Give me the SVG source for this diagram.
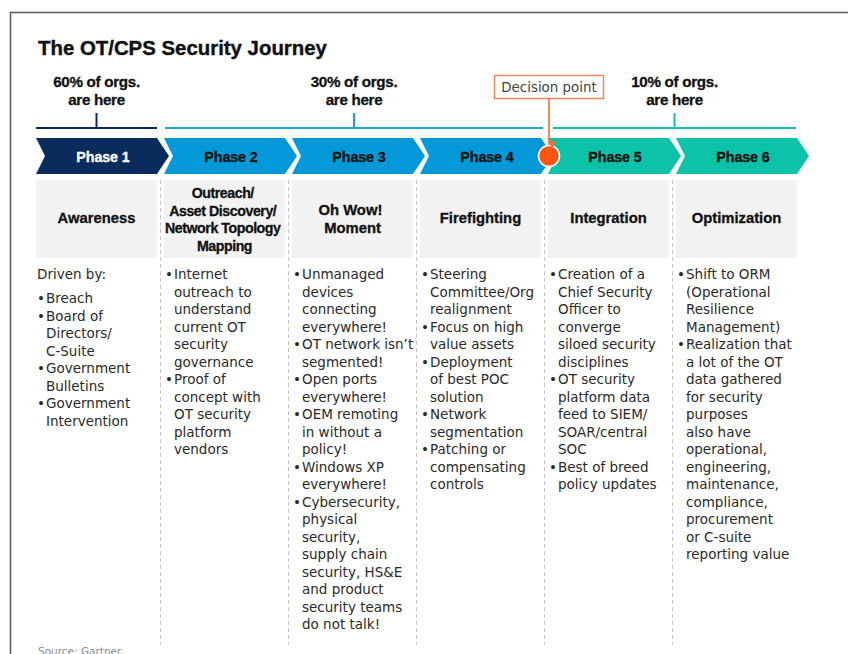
<svg xmlns="http://www.w3.org/2000/svg" width="848" height="654" viewBox="0 0 848 654">
  <defs>
    <style>
      .title { font-family: "Liberation Sans", Arial, sans-serif; font-weight: bold; font-size: 20.4px; fill: #111; stroke: #111; stroke-width: 0.4px; }
      .pct { font-family: "Liberation Sans", Arial, sans-serif; font-weight: bold; font-size: 15.2px; fill: #111; stroke: #111; stroke-width: 0.3px; text-anchor: middle; letter-spacing: -0.3px; }
      .ph { font-family: "Liberation Sans", Arial, sans-serif; font-weight: bold; font-size: 14.3px; text-anchor: middle; fill: #111; stroke: #111; stroke-width: 0.3px; letter-spacing: -0.1px; }
      .ph.light { fill: #fff; stroke: #fff; }
      .hd { font-family: "Liberation Sans", Arial, sans-serif; font-weight: bold; font-size: 14.8px; text-anchor: middle; fill: #111; stroke: #111; stroke-width: 0.3px; }
      .hd.tight { font-size: 14.2px; letter-spacing: -0.45px; }
      .body { font-family: "DejaVu Sans", Verdana, sans-serif; font-size: 13.5px; fill: #2a2a2a; }
      .dp { font-family: "DejaVu Sans", Verdana, sans-serif; font-size: 13.4px; fill: #444; text-anchor: middle; }
      .src { font-family: "DejaVu Sans", Verdana, sans-serif; font-size: 10.5px; fill: #8a8a8a; }
      .hbox { fill: #f2f2f2; }
      .sep { stroke: #c4c4c4; stroke-width: 1; stroke-dasharray: 4 3; fill: none; }
      .navy { fill: #0b2b5c; }
      .blue { fill: #0399d8; }
      .teal { fill: #0cc2a9; }
    </style>
    <marker id="arrowDown" viewBox="0 0 10 10" refX="5" refY="9" markerWidth="8" markerHeight="8" markerUnits="userSpaceOnUse" orient="auto">
      <path d="M0,0 L10,5 L0,10 Z" fill="#f26b3a"/>
    </marker>
  </defs>

  <rect width="848" height="654" fill="#fff"/>

  <!-- outer frame -->
  <path d="M10.5,654 L10.5,12.5 L848,12.5" fill="none" stroke="#5a5a5a" stroke-width="1.5"/>

  <text class="title" x="38" y="55">The OT/CPS Security Journey</text>

  <!-- share-of-organisations brackets -->
  <g id="share-60">
    <text class="pct" x="96.5" y="87">60% of orgs.</text>
    <text class="pct" x="96.5" y="105">are here</text>
    <line x1="36" y1="128" x2="157" y2="128" stroke="#0b2b5c" stroke-width="2"/>
    <line x1="96.5" y1="113" x2="96.5" y2="128" stroke="#0b2b5c" stroke-width="2"/>
  </g>
  <g id="share-30">
    <text class="pct" x="354" y="87">30% of orgs.</text>
    <text class="pct" x="354" y="105">are here</text>
    <line x1="165" y1="128" x2="543" y2="128" stroke="#1a9fe0" stroke-width="2"/>
    <line x1="354" y1="113" x2="354" y2="128" stroke="#1a9fe0" stroke-width="2"/>
  </g>
  <g id="share-10">
    <text class="pct" x="674.5" y="87">10% of orgs.</text>
    <text class="pct" x="674.5" y="105">are here</text>
    <line x1="553" y1="128" x2="796" y2="128" stroke="#14c0a8" stroke-width="2"/>
    <line x1="674.5" y1="113" x2="674.5" y2="128" stroke="#14c0a8" stroke-width="2"/>
  </g>

  <!-- column separators -->
  <g id="separators">
    <line class="sep" x1="160.5" y1="180" x2="160.5" y2="645"/>
    <line class="sep" x1="288.5" y1="180" x2="288.5" y2="645"/>
    <line class="sep" x1="416.5" y1="180" x2="416.5" y2="645"/>
    <line class="sep" x1="544.5" y1="180" x2="544.5" y2="645"/>
    <line class="sep" x1="672.5" y1="180" x2="672.5" y2="645"/>
  </g>

  <!-- Phase 1 -->
  <g id="phase1">
    <path class="navy" d="M36,138 L157,138 L169,156 L157,174 L36,174 L45,156 Z"/>
    <text class="ph light" x="103" y="161.5">Phase 1</text>
    <rect class="hbox" x="36" y="180" width="121" height="78"/>
    <text class="hd" x="96.5" y="223">Awareness</text>
    <text class="body">
      <tspan x="37" y="279">Driven by:</tspan>
      <tspan x="37" y="303">•</tspan><tspan x="46" y="303">Breach</tspan>
      <tspan x="37" y="320.5">•</tspan><tspan x="46" y="320.5">Board of</tspan>
      <tspan x="46" y="338">Directors/</tspan>
      <tspan x="46" y="355.5">C-Suite</tspan>
      <tspan x="37" y="373">•</tspan><tspan x="46" y="373">Government</tspan>
      <tspan x="46" y="390.5">Bulletins</tspan>
      <tspan x="37" y="408">•</tspan><tspan x="46" y="408">Government</tspan>
      <tspan x="46" y="425.5">Intervention</tspan>
    </text>
  </g>

  <!-- Phase 2 -->
  <g id="phase2">
    <path class="blue" d="M164,138 L285,138 L297,156 L285,174 L164,174 L173,156 Z"/>
    <text class="ph" x="231" y="161.5">Phase 2</text>
    <rect class="hbox" x="164" y="180" width="121" height="78"/>
    <text class="hd tight">
      <tspan x="224.5" y="198">Outreach/</tspan>
      <tspan x="224.5" y="215.5">Asset Discovery/</tspan>
      <tspan x="224.5" y="233">Network Topology</tspan>
      <tspan x="224.5" y="250.5">Mapping</tspan>
    </text>
    <text class="body">
      <tspan x="165" y="279">•</tspan><tspan x="174" y="279">Internet</tspan>
      <tspan x="174" y="296.5">outreach to</tspan>
      <tspan x="174" y="314">understand</tspan>
      <tspan x="174" y="331.5">current OT</tspan>
      <tspan x="174" y="349">security</tspan>
      <tspan x="174" y="366.5">governance</tspan>
      <tspan x="165" y="384">•</tspan><tspan x="174" y="384">Proof of</tspan>
      <tspan x="174" y="401.5">concept with</tspan>
      <tspan x="174" y="419">OT security</tspan>
      <tspan x="174" y="436.5">platform</tspan>
      <tspan x="174" y="454">vendors</tspan>
    </text>
  </g>

  <!-- Phase 3 -->
  <g id="phase3">
    <path class="blue" d="M292,138 L413,138 L425,156 L413,174 L292,174 L301,156 Z"/>
    <text class="ph" x="359" y="161.5">Phase 3</text>
    <rect class="hbox" x="292" y="180" width="121" height="78"/>
    <text class="hd">
      <tspan x="352.5" y="215">Oh Wow!</tspan>
      <tspan x="352.5" y="232.5">Moment</tspan>
    </text>
    <text class="body">
      <tspan x="293" y="279">•</tspan><tspan x="302" y="279">Unmanaged</tspan>
      <tspan x="302" y="296.5">devices</tspan>
      <tspan x="302" y="314">connecting</tspan>
      <tspan x="302" y="331.5">everywhere!</tspan>
      <tspan x="293" y="349">•</tspan><tspan x="302" y="349">OT network isn’t</tspan>
      <tspan x="302" y="366.5">segmented!</tspan>
      <tspan x="293" y="384">•</tspan><tspan x="302" y="384">Open ports</tspan>
      <tspan x="302" y="401.5">everywhere!</tspan>
      <tspan x="293" y="419">•</tspan><tspan x="302" y="419">OEM remoting</tspan>
      <tspan x="302" y="436.5">in without a</tspan>
      <tspan x="302" y="454">policy!</tspan>
      <tspan x="293" y="471.5">•</tspan><tspan x="302" y="471.5">Windows XP</tspan>
      <tspan x="302" y="489">everywhere!</tspan>
      <tspan x="293" y="506.5">•</tspan><tspan x="302" y="506.5">Cybersecurity,</tspan>
      <tspan x="302" y="524">physical</tspan>
      <tspan x="302" y="541.5">security,</tspan>
      <tspan x="302" y="559">supply chain</tspan>
      <tspan x="302" y="576.5">security, HS&amp;E</tspan>
      <tspan x="302" y="594">and product</tspan>
      <tspan x="302" y="611.5">security teams</tspan>
      <tspan x="302" y="629">do not talk!</tspan>
    </text>
  </g>

  <!-- Phase 4 -->
  <g id="phase4">
    <path class="blue" d="M420,138 L541,138 L553,156 L541,174 L420,174 L429,156 Z"/>
    <text class="ph" x="487" y="161.5">Phase 4</text>
    <rect class="hbox" x="420" y="180" width="121" height="78"/>
    <text class="hd" x="480.5" y="223">Firefighting</text>
    <text class="body">
      <tspan x="421" y="279">•</tspan><tspan x="430" y="279">Steering</tspan>
      <tspan x="430" y="296.5">Committee/Org</tspan>
      <tspan x="430" y="314">realignment</tspan>
      <tspan x="421" y="331.5">•</tspan><tspan x="430" y="331.5">Focus on high</tspan>
      <tspan x="430" y="349">value assets</tspan>
      <tspan x="421" y="366.5">•</tspan><tspan x="430" y="366.5">Deployment</tspan>
      <tspan x="430" y="384">of best POC</tspan>
      <tspan x="430" y="401.5">solution</tspan>
      <tspan x="421" y="419">•</tspan><tspan x="430" y="419">Network</tspan>
      <tspan x="430" y="436.5">segmentation</tspan>
      <tspan x="421" y="454">•</tspan><tspan x="430" y="454">Patching or</tspan>
      <tspan x="430" y="471.5">compensating</tspan>
      <tspan x="430" y="489">controls</tspan>
    </text>
  </g>

  <!-- Phase 5 -->
  <g id="phase5">
    <path class="teal" d="M548,138 L669,138 L681,156 L669,174 L548,174 L557,156 Z"/>
    <text class="ph" x="615" y="161.5">Phase 5</text>
    <rect class="hbox" x="548" y="180" width="121" height="78"/>
    <text class="hd" x="608.5" y="223">Integration</text>
    <text class="body">
      <tspan x="549" y="279">•</tspan><tspan x="558" y="279">Creation of a</tspan>
      <tspan x="558" y="296.5">Chief Security</tspan>
      <tspan x="558" y="314">Officer to</tspan>
      <tspan x="558" y="331.5">converge</tspan>
      <tspan x="558" y="349">siloed security</tspan>
      <tspan x="558" y="366.5">disciplines</tspan>
      <tspan x="549" y="384">•</tspan><tspan x="558" y="384">OT security</tspan>
      <tspan x="558" y="401.5">platform data</tspan>
      <tspan x="558" y="419">feed to SIEM/</tspan>
      <tspan x="558" y="436.5">SOAR/central</tspan>
      <tspan x="558" y="454">SOC</tspan>
      <tspan x="549" y="471.5">•</tspan><tspan x="558" y="471.5">Best of breed</tspan>
      <tspan x="558" y="489">policy updates</tspan>
    </text>
  </g>

  <!-- Phase 6 -->
  <g id="phase6">
    <path class="teal" d="M676,138 L797,138 L809,156 L797,174 L676,174 L685,156 Z"/>
    <text class="ph" x="743" y="161.5">Phase 6</text>
    <rect class="hbox" x="676" y="180" width="121" height="78"/>
    <text class="hd" x="736.5" y="223">Optimization</text>
    <text class="body">
      <tspan x="677" y="279">•</tspan><tspan x="686" y="279">Shift to ORM</tspan>
      <tspan x="686" y="296.5">(Operational</tspan>
      <tspan x="686" y="314">Resilience</tspan>
      <tspan x="686" y="331.5">Management)</tspan>
      <tspan x="677" y="349">•</tspan><tspan x="686" y="349">Realization that</tspan>
      <tspan x="686" y="366.5">a lot of the OT</tspan>
      <tspan x="686" y="384">data gathered</tspan>
      <tspan x="686" y="401.5">for security</tspan>
      <tspan x="686" y="419">purposes</tspan>
      <tspan x="686" y="436.5">also have</tspan>
      <tspan x="686" y="454">operational,</tspan>
      <tspan x="686" y="471.5">engineering,</tspan>
      <tspan x="686" y="489">maintenance,</tspan>
      <tspan x="686" y="506.5">compliance,</tspan>
      <tspan x="686" y="524">procurement</tspan>
      <tspan x="686" y="541.5">or C-suite</tspan>
      <tspan x="686" y="559">reporting value</tspan>
    </text>
  </g>

  <!-- decision point callout -->
  <g id="decision-point">
    <rect x="494.5" y="75.5" width="109" height="23" fill="#fff" stroke="#f4875a" stroke-width="1.5"/>
    <text class="dp" x="549" y="92">Decision point</text>
    <circle cx="549" cy="156" r="10.5" fill="#fe5512" stroke="#fff" stroke-width="1.5"/>
  </g>

  <g id="connectors">
    <line x1="549" y1="98.5" x2="549" y2="145" stroke="#f26b3a" stroke-width="1.6" marker-end="url(#arrowDown)"/>
  </g>

  <text class="src" x="38" y="655">Source: Gartner</text>
</svg>
